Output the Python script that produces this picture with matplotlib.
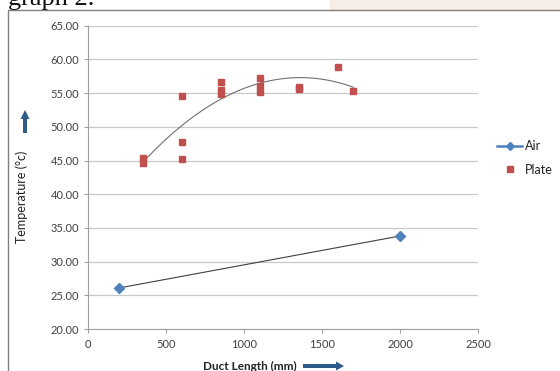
import numpy as np
import matplotlib
matplotlib.use("Agg")
import matplotlib.pyplot as plt
from matplotlib.lines import Line2D
from matplotlib.patches import FancyArrow, Rectangle

plt.rcParams['font.family'] = ['Lato', 'DejaVu Sans']

# Data
air_x = [200, 2000]
air_y = [26.1, 33.8]
plate_x = [350, 350, 600, 600, 600, 850, 850, 850, 1100, 1100, 1100, 1350, 1350, 1600, 1700]
plate_y = [45.4, 44.6, 54.6, 47.7, 45.2, 56.7, 55.4, 54.9, 57.3, 56.1, 55.2, 55.9, 55.6, 58.9, 55.3]
x_ticks = [0, 500, 1000, 1500, 2000, 2500]
y_ticks = [20, 25, 30, 35, 40, 45, 50, 55, 60, 65]

W, H = 560, 371
fig = plt.figure(figsize=(W/100, H/100), dpi=100)

# top faded background and frame
fig.add_artist(Rectangle((330/W, 1-10/H), 230/W, 10/H, transform=fig.transFigure,
                         color='#f6eee6', zorder=0))
fig.add_artist(Rectangle((8/W, -0.05), 1.0, 1-10/H+0.05, transform=fig.transFigure,
                         facecolor='white', edgecolor='#808080', lw=1.0, zorder=0))
fig.text(8/W, 1-5/H, "graph 2.", family='Liberation Serif', fontsize=19,
         va='baseline', ha='left', color='#111111')

ax = fig.add_axes([88.3/W, 1-329/H, (478-88.3)/W, (329-25.7)/H])
ax.set_xlim(0, 2500)
ax.set_ylim(20, 65)
ax.set_xticks(x_ticks)
ax.set_yticks(y_ticks)
ax.set_yticklabels([f"{v:.2f}" for v in y_ticks])
ax.tick_params(axis='both', labelsize=8, colors='#a0a0a0', labelcolor='#404040',
               direction='out', length=3, width=0.8)
ax.tick_params(axis='x', pad=4)
for s in ['top', 'right']:
    ax.spines[s].set_visible(False)
for s in ['left', 'bottom']:
    ax.spines[s].set_color('#a0a0a0')
    ax.spines[s].set_linewidth(0.8)
ax.grid(axis='y', color='#c8c8c8', lw=0.9)
ax.set_axisbelow(True)

# Plate trendline (2nd-order polynomial)
coef = np.polyfit(plate_x, plate_y, 2)
tx = np.linspace(min(plate_x), max(plate_x), 200)
ax.plot(tx, np.polyval(coef, tx), color='#707070', lw=0.8, zorder=2)

# Air line
ax.plot(air_x, air_y, color='#404040', lw=0.8, zorder=2)
ax.plot(air_x, air_y, ls='none', marker='D', ms=5.5, color='#4F81BD', zorder=3)
ax.plot(plate_x, plate_y, ls='none', marker='s', ms=4.5, color='#C0504D', zorder=3)

# Labels
fig.text(22/W, 1-197/H, "Temperature (°c)", rotation=90, fontsize=9,
         ha='center', va='center', color='#222222')
fig.text(250/W, 1-366/H, "Duct Length (mm)", fontsize=8.5, fontweight='bold',
         ha='center', va='center', color='#222222')

# arrows
fig.add_artist(FancyArrow(25/W, 1-133/H, 0, 23/H, width=4/W, head_width=9/W,
                          head_length=9/H, length_includes_head=True,
                          transform=fig.transFigure, color='#2E5C8A', lw=0))
fig.add_artist(FancyArrow(303/W, 1-366/H, 41/W, 0, width=4/H, head_width=9/H,
                          head_length=8/W, length_includes_head=True,
                          transform=fig.transFigure, color='#2E5C8A', lw=0))

# legend
handles = [Line2D([], [], color='#4F81BD', lw=1.8, marker='D', ms=4),
           Line2D([], [], ls='none', color='#C0504D', marker='s', ms=4.5)]
leg = fig.legend(handles, ['Air', 'Plate'], loc='center left',
                 bbox_to_anchor=(486/W, 1-158/H), frameon=False, fontsize=9,
                 handlelength=2.0, handletextpad=0.2, labelspacing=0.9)
for t in leg.get_texts():
    t.set_color('#222222')

fig.savefig("out.png", dpi=100)
